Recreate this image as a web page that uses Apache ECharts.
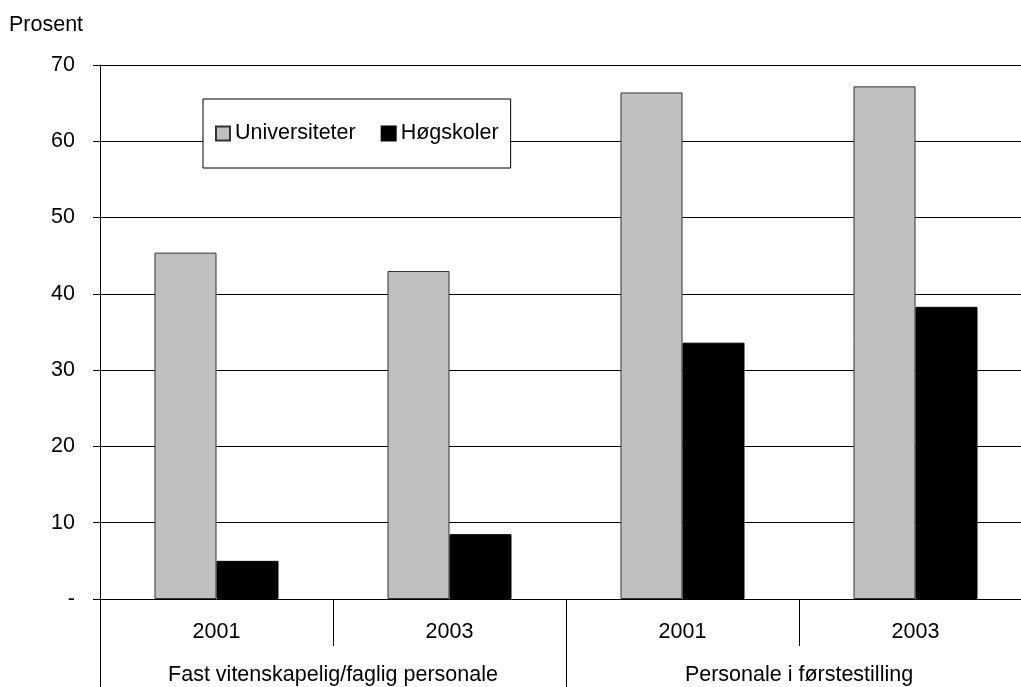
<!DOCTYPE html>
<html><head><meta charset="utf-8">
<script src="https://cdn.jsdelivr.net/npm/echarts@6/dist/echarts.min.js"></script>
<style>html,body{margin:0;padding:0;background:#fff}#c{width:1021px;height:687px}</style>
</head><body><div id="c"></div>
<script>
const years = ['2001', '2003', '2001', '2003'];
const groups = ['Fast vitenskapelig/faglig personale', 'Personale i førstestilling'];
const universiteter = [45.4, 43.0, 66.4, 67.2];
const hogskoler = [5.0, 8.5, 33.6, 38.3];
const yTicks = { min: 0, max: 70, interval: 10 };
const FONT = '"Liberation Sans", Arial, sans-serif';
const FS = 21.5;

const chart = echarts.init(document.getElementById('c'), null, { renderer: 'canvas' });
chart.setOption({
  animation: false,
  backgroundColor: '#fff',
  textStyle: { fontFamily: FONT },
  title: {
    text: 'Prosent', left: 9, top: 13, padding: 0,
    textStyle: { fontFamily: FONT, fontSize: FS, fontWeight: 'normal', color: '#000', lineHeight: 24 }
  },
  legend: {
    left: 203, top: 99,
    padding: [22, 12, 22, 12],
    itemGap: 25, itemWidth: 14, itemHeight: 14,
    icon: 'rect',
    backgroundColor: '#fff', borderColor: '#000', borderWidth: 1,
    textStyle: { fontFamily: FONT, fontSize: FS, color: '#000', lineHeight: 25 },
    data: ['Universiteter', 'Høgskoler']
  },
  grid: { left: 100, top: 65, width: 932, height: 534, containLabel: false, outerBoundsMode: 'none' },
  xAxis: [
    {
      type: 'category', data: years, position: 'bottom',
      axisLine: { show: true, lineStyle: { color: '#000', width: 1 } },
      axisTick: { show: true, length: 47, interval: 0, lineStyle: { color: '#000' } },
      axisLabel: { interval: 0, margin: 22, fontSize: FS, color: '#000', fontFamily: FONT }
    },
    {
      type: 'category', data: groups, position: 'bottom', gridIndex: 0,
      axisLine: { show: false },
      axisTick: { show: true, length: 90, interval: 0, lineStyle: { color: '#000' } },
      axisLabel: { interval: 0, margin: 65, fontSize: FS, color: '#000', fontFamily: FONT }
    }
  ],
  yAxis: {
    type: 'value', min: yTicks.min, max: yTicks.max, interval: yTicks.interval,
    axisLine: { show: true, lineStyle: { color: '#000', width: 1 } },
    axisTick: { show: true, length: 7, lineStyle: { color: '#000' } },
    splitLine: { show: true, lineStyle: { color: '#000', width: 1 } },
    axisLabel: {
      margin: 25, fontSize: FS, color: '#000', fontFamily: FONT,
      formatter: v => (v === 0 ? '-' : String(v))
    }
  },
  series: [
    {
      name: 'Universiteter', type: 'bar', data: universiteter,
      barWidth: 62, barGap: '0%',
      itemStyle: { color: '#c0c0c0', borderColor: '#333', borderWidth: 1 }
    },
    {
      name: 'Høgskoler', type: 'bar', data: hogskoler,
      barWidth: 62, barGap: '0%',
      itemStyle: { color: '#000', borderColor: '#000', borderWidth: 1 }
    }
  ]
});
</script></body></html>
